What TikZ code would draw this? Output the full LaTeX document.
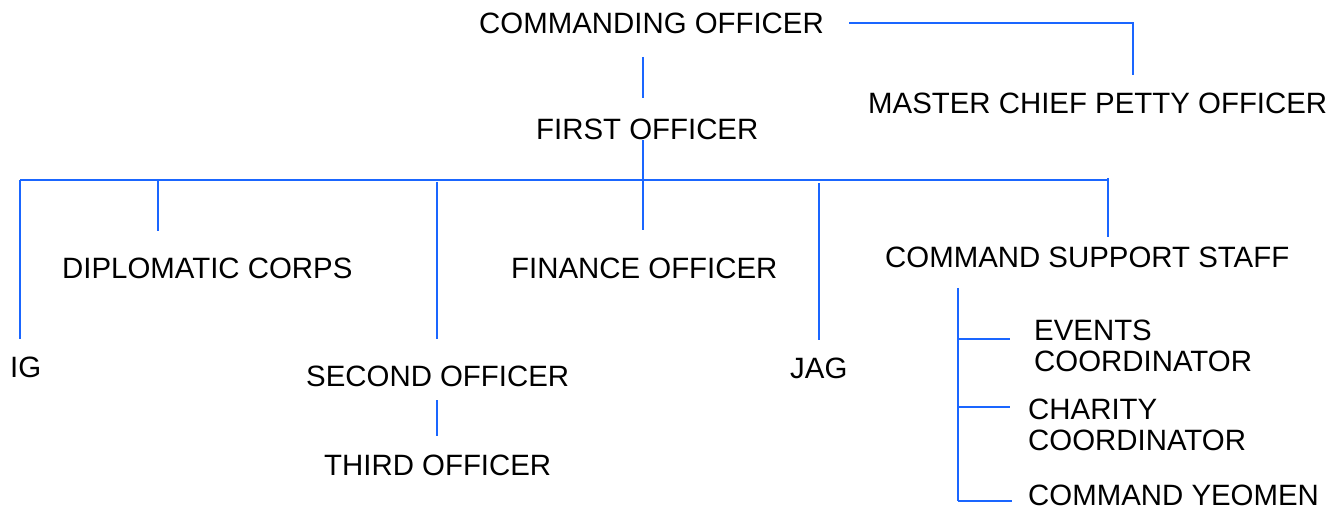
\documentclass[tikz,border=0pt]{standalone}
\usepackage{fontspec}
\setmainfont{Liberation Sans}
\definecolor{lineblue}{RGB}{26,102,255}
\begin{document}
\begin{tikzpicture}[x=1pt,y=-1pt,
  lbl/.style={font=\fontsize{29.4}{31}\selectfont, inner sep=0pt, anchor=west, text=black, align=left},
  conn/.style={draw=lineblue, line width=2pt}]
\useasboundingbox (0,0) rectangle (1338,510);
% labels
\node[lbl] (co)   at (479,23)  {COMMANDING OFFICER};
\node[lbl] (mcpo) at (868,103) {MASTER CHIEF PETTY OFFICER};
\node[lbl] (fo)   at (536,129) {FIRST OFFICER};
\node[lbl] (dc)   at (62,268)  {DIPLOMATIC CORPS};
\node[lbl] (fin)  at (511,268) {FINANCE OFFICER};
\node[lbl] (css)  at (885,257) {COMMAND SUPPORT STAFF};
\node[lbl] (ig)   at (10,367)  {IG};
\node[lbl] (so)   at (306,376) {SECOND OFFICER};
\node[lbl] (jag)  at (790,368) {JAG};
\node[lbl] (to)   at (324,465) {THIRD OFFICER};
\node[lbl] (ev)   at (1034,345.5) {EVENTS\\COORDINATOR};
\node[lbl] (ch)   at (1028,424.5) {CHARITY\\COORDINATOR};
\node[lbl] (cy)   at (1028,495) {COMMAND YEOMEN};
% connector end points
\coordinate (coR)   at (849,23);
\coordinate (mcpoT) at (1133,75);
\coordinate (coB)   at (643,57);
\coordinate (foT)   at (643,98);
\coordinate (foB)   at (643,140);
\coordinate (finT)  at (643,230);
\coordinate (busL)  at (20,180);
\coordinate (busR)  at (1109,180);
\coordinate (igT)   at (20,339);
\coordinate (dcB)   at (158,180);
\coordinate (dcT)   at (158,231);
\coordinate (soB)   at (437,182);
\coordinate (soT)   at (437,339);
\coordinate (jagB)  at (819,183);
\coordinate (jagT)  at (819,340);
\coordinate (cssB)  at (1108,178);
\coordinate (cssT)  at (1108,237);
\coordinate (soD)   at (437,400);
\coordinate (toT)   at (437,436);
\coordinate (subT)  at (958,288);
\coordinate (subB)  at (958,501);
\coordinate (evL)   at (1010,339);
\coordinate (chL)   at (1010,407);
\coordinate (cyL)   at (1012,501);
% connectors
\draw[conn] (coR) -| (mcpoT);
\draw[conn] (coB) -- (foT);
\draw[conn] (foB) -- (finT);
\draw[conn] (busL) -- (busR);
\draw[conn] (busL) -- (igT);
\draw[conn] (dcB) -- (dcT);
\draw[conn] (soB) -- (soT);
\draw[conn] (jagB) -- (jagT);
\draw[conn] (cssB) -- (cssT);
\draw[conn] (soD) -- (toT);
\draw[conn] (subT) -- (subB);
\draw[conn] (subT |- evL) -- (evL);
\draw[conn] (subT |- chL) -- (chL);
\draw[conn] (subB) -- (cyL);
\end{tikzpicture}
\end{document}
